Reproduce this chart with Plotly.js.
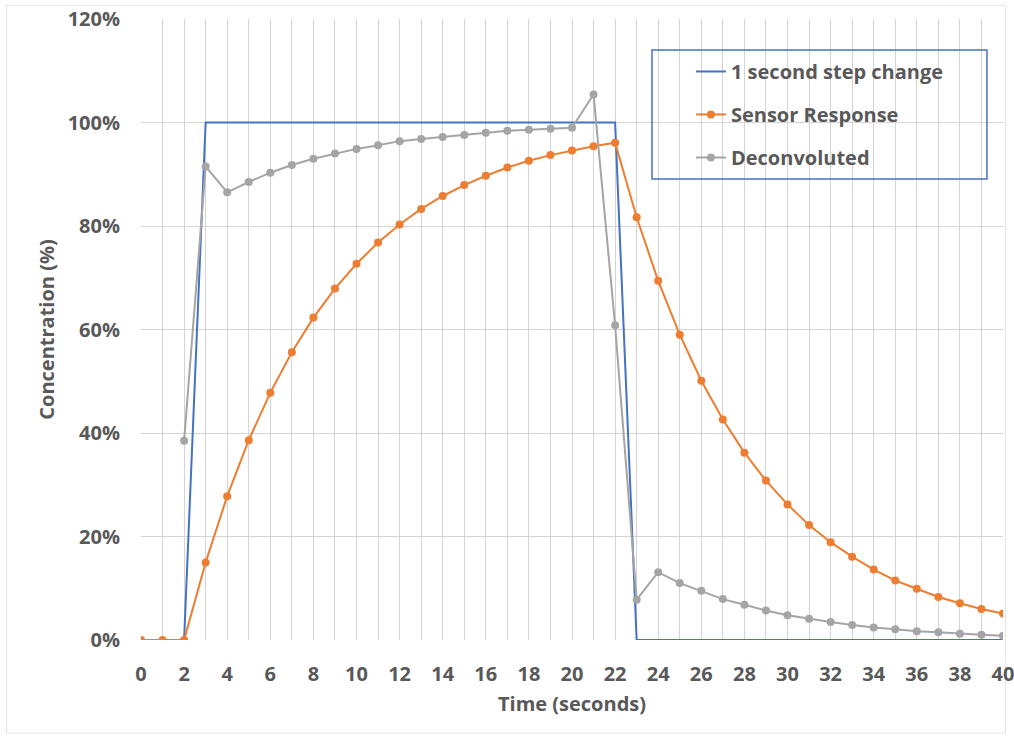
<!DOCTYPE html>
<html>
<head>
<meta charset="utf-8">
<script src="https://cdn.plot.ly/plotly-3.0.1.min.js"></script>
<style>html,body{margin:0;padding:0;background:#fff;}#chart{width:1014px;height:740px;}</style>
</head>
<body>
<div id="chart"></div>
<script>
// Time axis (seconds)
const stepX = [0, 1, 2, 3, 22, 23, 40];
const stepY = [0, 0, 0, 100, 100, 0, 0];

const sensorX = [0,1,2,3,4,5,6,7,8,9,10,11,12,13,14,15,16,17,18,19,20,21,22,23,24,25,26,27,28,29,30,31,32,33,34,35,36,37,38,39,40];
const sensorY = [0,0,0,15.0,27.8,38.6,47.8,55.6,62.3,67.9,72.7,76.8,80.3,83.3,85.8,87.9,89.7,91.3,92.6,93.7,94.6,95.4,96.1,81.7,69.4,59.0,50.1,42.6,36.2,30.8,26.2,22.2,18.9,16.1,13.6,11.5,9.9,8.3,7.1,6.0,5.1];

const deconvX = [2,3,4,5,6,7,8,9,10,11,12,13,14,15,16,17,18,19,20,21,22,23,24,25,26,27,28,29,30,31,32,33,34,35,36,37,38,39,40];
const deconvY = [38.5,91.5,86.5,88.5,90.3,91.8,93.0,94.0,94.9,95.6,96.4,96.8,97.2,97.6,98.0,98.4,98.6,98.8,99.0,105.4,60.8,7.8,13.1,11.0,9.5,7.9,6.8,5.7,4.8,4.1,3.5,2.9,2.4,2.1,1.7,1.5,1.2,1.0,0.8];

const names = ["1 second step change", "Sensor Response", "Deconvoluted"];
const xTickVals = [0,1,2,3,4,5,6,7,8,9,10,11,12,13,14,15,16,17,18,19,20,21,22,23,24,25,26,27,28,29,30,31,32,33,34,35,36,37,38,39,40];
const xTickText = ["0","","2","","4","","6","","8","","10","","12","","14","","16","","18","","20","","22","","24","","26","","28","","30","","32","","34","","36","","38","","40"];
const yTickVals = [0, 20, 40, 60, 80, 100, 120];
const yTickText = ["0%", "20%", "40%", "60%", "80%", "100%", "120%"];

const FONT = "Open Sans, Liberation Sans, sans-serif";
const TXT = "#595959";

const traces = [
  {x: stepX, y: stepY, name: names[0], mode: "lines", legend: "legend",
   line: {color: "#4472C4", width: 2}},
  {x: sensorX, y: sensorY, name: names[1], mode: "lines+markers", legend: "legend2",
   line: {color: "#ED7D31", width: 2}, marker: {color: "#ED7D31", size: 8}},
  {x: deconvX, y: deconvY, name: names[2], mode: "lines+markers", legend: "legend3",
   line: {color: "#A5A5A5", width: 2}, marker: {color: "#A5A5A5", size: 8}}
];

const legFont = {family: FONT, size: 20, color: TXT, weight: "bold"};
function leg(y) {
  return {x: 0.638, y: y, xanchor: "left", yanchor: "middle", bgcolor: "rgba(0,0,0,0)",
          borderwidth: 0, font: legFont, itemwidth: 30};
}

const tickFont = {family: FONT, size: 20, color: TXT, weight: "bold"};

const layout = {
  width: 1014, height: 740,
  margin: {l: 141, r: 11, t: 19, b: 100},
  paper_bgcolor: "#fff", plot_bgcolor: "#fff",
  font: {family: FONT, color: TXT},
  xaxis: {
    range: [0, 40], tickmode: "array", tickvals: xTickVals, ticktext: xTickText,
    showgrid: true, gridcolor: "#d4d4d4", gridwidth: 1,
    zeroline: false, showline: false, ticks: "",
    tickfont: tickFont, ticklabeloverflow: "allow",
    ticklabelstandoff: 20,
    title: {text: "Time (seconds)", font: {family: FONT, size: 20, color: TXT, weight: "bold"}, standoff: 10}
  },
  yaxis: {
    range: [0, 120], tickmode: "array", tickvals: yTickVals, ticktext: yTickText, showgrid: true,
    gridcolor: "#d4d4d4", gridwidth: 1, zeroline: false, showline: false, ticks: "",
    tickfont: tickFont, ticklabeloverflow: "allow",
    ticklabelstandoff: 20,
    title: {text: "Concentration (%)", font: {family: FONT, size: 20, color: TXT, weight: "bold"}, standoff: 7}
  },
  showlegend: true,
  legend: leg(0.9155),
  legend2: leg(0.8463),
  legend3: leg(0.777),
  shapes: [
    {type: "rect", xref: "paper", yref: "paper", x0: 0.5928, x1: 0.9814, y0: 0.7424, y1: 0.9501,
     line: {color: "#4472C4", width: 1.5}, fillcolor: "rgba(0,0,0,0)", layer: "above"},
    {type: "rect", xref: "paper", yref: "paper", x0: -0.156, x1: 1.003, y0: -0.15, y1: 1.022,
     line: {color: "#e3e3e3", width: 1}, fillcolor: "rgba(0,0,0,0)", layer: "below"}
  ]
};

Plotly.newPlot("chart", traces, layout, {displayModeBar: false, staticPlot: true});
</script>
</body>
</html>
